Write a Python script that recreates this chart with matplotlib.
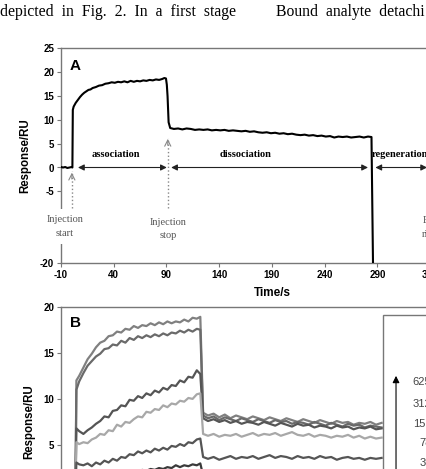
import matplotlib.pyplot as plt
from matplotlib.patches import Rectangle

plt.rcParams['axes.unicode_minus'] = False

# ---- panel A: single sensorgram ----
tA = [-10, -8, -6, -4, -2, 0, 0.8,
      1.2, 2, 4, 6, 8, 10, 12, 14, 16, 18, 20, 23, 26, 29, 32, 35, 38, 41, 44,
      47, 50, 53, 56, 59, 62, 65, 68, 71, 74, 77, 80, 83, 86, 88, 89.5,
      90.3, 91, 92, 93.5, 97, 101, 105, 109, 113, 117, 121, 125, 129, 133, 137,
      141, 145, 149, 153, 157, 161, 165, 169, 173, 177, 181, 185, 189, 193,
      197, 201, 205, 209, 213, 217, 221, 225, 229, 233, 237, 241, 245, 249,
      253, 257, 261, 265, 269, 273, 277, 281, 284.3, 286]
rA = [0.1, 0.0, 0.1, -0.1, 0.0, 0.1, 0.0,
      12.1, 12.8, 13.6, 14.2, 14.8, 15.3, 15.7, 16.0, 16.3, 16.4, 16.7, 16.9,
      17.2, 17.3, 17.6, 17.7, 17.9, 17.8, 18.0, 17.9, 18.1, 17.9, 18.2, 18.0,
      18.2, 18.1, 18.3, 18.2, 18.4, 18.3, 18.5, 18.4, 18.6, 18.8, 18.7,
      17.4, 15.0, 9.5, 8.3, 8.1, 8.2, 8.0, 8.2, 8.1, 7.9, 8.0, 7.9, 8.0, 7.8,
      7.9, 7.8, 7.9, 7.7, 7.8, 7.7, 7.6, 7.7, 7.5, 7.6, 7.4, 7.3, 7.4, 7.2,
      7.3, 7.1, 7.2, 7.0, 7.1, 6.9, 6.8, 6.9, 6.7, 6.8, 6.6, 6.7, 6.5, 6.6,
      6.3, 6.5, 6.4, 6.5, 6.3, 6.4, 6.5, 6.3, 6.5, 6.4, -25]

# ---- panel B: concentration series ----
tB_pre = [-10, 0.3]
tB_ass = [1, 3, 6, 9, 12, 15, 18, 21, 24, 27, 30, 33, 36, 39, 42, 45, 48, 51,
          54, 57, 60, 63, 66, 69, 72, 75, 78, 81, 84, 87, 89.5]
tB_dis = [91.5, 95, 99, 103, 107, 111, 115, 119, 123, 127, 131, 135, 139, 143,
          147, 151, 155, 159, 163, 167, 171, 175, 179, 183, 187, 191, 195, 199,
          203, 207, 211, 215, 219]

ass_625 = [12.0, 12.5, 13.4, 14.3, 14.9, 15.6, 16.1, 16.3, 16.8, 16.9, 17.3, 17.2,
           17.6, 17.5, 17.9, 17.7, 18.0, 17.9, 18.2, 18.0, 18.3, 18.1, 18.4, 18.2,
           18.4, 18.3, 18.6, 18.4, 18.8, 18.7, 18.9]
ass_312 = [11.0, 11.9, 12.8, 13.6, 14.1, 14.6, 14.9, 15.4, 15.5, 15.9, 15.8, 16.3,
           16.1, 16.6, 16.4, 16.8, 16.6, 16.9, 16.7, 17.0, 16.8, 17.1, 16.9, 17.2,
           17.1, 17.4, 17.2, 17.5, 17.3, 17.6, 17.5]
ass_156 = [6.8, 6.5, 6.2, 6.6, 6.9, 7.3, 7.6, 8.1, 8.0, 8.7, 8.8, 9.3, 9.2, 9.9,
           9.8, 10.3, 10.1, 10.6, 10.4, 10.9, 10.7, 11.2, 11.0, 11.5, 11.4, 12.0,
           11.8, 12.4, 12.3, 13.1, 12.7]
ass_78 = [5.3, 5.1, 5.3, 5.2, 5.6, 5.8, 6.2, 6.1, 6.6, 6.5, 7.2, 7.0, 7.5, 7.4,
          7.8, 8.1, 8.0, 8.6, 8.5, 8.9, 8.8, 9.3, 9.1, 9.5, 9.4, 9.8, 9.7, 10.1,
          10.0, 10.5, 10.6]
ass_39 = [3.1, 2.9, 2.8, 3.0, 2.7, 3.1, 2.9, 3.3, 3.1, 3.5, 3.3, 3.7, 3.6, 4.0,
          3.9, 4.3, 4.1, 4.4, 4.2, 4.6, 4.4, 4.7, 4.5, 4.9, 4.8, 5.1, 4.9, 5.3,
          5.2, 5.6, 5.7]
ass_20 = [1.3, 1.2, 1.4, 1.2, 1.5, 1.4, 1.6, 1.5, 1.8, 1.7, 1.9, 1.8, 2.0, 1.9,
          2.2, 2.0, 2.3, 2.2, 2.4, 2.3, 2.5, 2.4, 2.6, 2.5, 2.8, 2.6, 2.8, 2.7,
          2.9, 2.8, 3.0]

dis_625 = [8.5, 8.2, 8.4, 8.0, 8.3, 7.9, 8.2, 8.0, 7.8, 8.1, 7.9, 7.7, 8.0, 7.8,
           7.6, 7.9, 7.7, 7.5, 7.8, 7.6, 7.4, 7.7, 7.5, 7.3, 7.6, 7.4, 7.5, 7.2,
           7.4, 7.3, 7.5, 7.2, 7.4]
dis_312 = [8.2, 7.9, 8.1, 7.7, 8.0, 7.8, 7.6, 7.9, 7.7, 7.5, 7.8, 7.6, 7.4, 7.7,
           7.5, 7.6, 7.3, 7.5, 7.4, 7.2, 7.5, 7.3, 7.1, 7.4, 7.2, 7.0, 7.3, 7.1,
           7.2, 6.9, 7.1, 7.0, 6.9]
dis_156 = [7.9, 7.6, 7.8, 7.5, 7.7, 7.4, 7.6, 7.3, 7.5, 7.4, 7.2, 7.5, 7.3, 7.1,
           7.4, 7.2, 7.0, 7.3, 7.1, 7.2, 6.9, 7.1, 7.0, 6.8, 7.1, 6.9, 7.0, 6.7,
           6.9, 6.8, 7.0, 6.7, 6.8]
dis_78 = [6.2, 6.0, 6.2, 5.9, 6.1, 6.0, 6.2, 5.9, 6.1, 6.3, 6.0, 6.2, 6.1, 6.3,
          6.0, 6.2, 6.4, 6.1, 6.0, 6.2, 5.9, 6.1, 6.0, 5.8, 6.0, 5.9, 6.1, 5.8,
          6.0, 5.7, 5.9, 5.7, 5.8]
dis_39 = [3.7, 3.5, 3.7, 3.4, 3.6, 3.8, 3.5, 3.7, 3.6, 3.8, 3.5, 3.7, 3.9, 3.6,
          3.8, 3.7, 3.5, 3.8, 3.6, 3.7, 3.5, 3.8, 3.6, 3.7, 3.4, 3.6, 3.7, 3.5,
          3.6, 3.4, 3.6, 3.5, 3.6]
dis_20 = [1.7, 1.5, 1.7, 1.6, 1.8, 1.5, 1.7, 1.6, 1.5, 1.7, 1.6, 1.8, 1.5, 1.7,
          1.6, 1.5, 1.7, 1.6, 1.5, 1.7, 1.6, 1.4, 1.6, 1.5, 1.7, 1.5, 1.6, 1.4,
          1.6, 1.5, 1.6, 1.4, 1.5]

conc_labels = ['625', '312', '156', '78', '39', '20']
conc_y = [11.85, 9.5, 7.3, 5.2, 3.1, 1.0]
B_series = [(ass_625, dis_625, '#808080'), (ass_312, dis_312, '#6a6a6a'),
            (ass_156, dis_156, '#555555'), (ass_78, dis_78, '#a8a8a8'),
            (ass_39, dis_39, '#555555'), (ass_20, dis_20, '#3a3a3a')]

sans = 'Liberation Sans'
serif = 'Liberation Serif'
spine_col = '#777777'

fig = plt.figure(figsize=(4.27, 4.69), dpi=100)

# running text of the page above the figure
fig.text(0.0, 1 - 15.5 / 469, 'depicted  in  Fig.  2.  In  a  first  stage',
         family=serif, fontsize=11.3, ha='left', va='baseline')
fig.text(276 / 427, 1 - 15.5 / 469, 'Bound  analyte  detachi',
         family=serif, fontsize=11.3, ha='left', va='baseline')


def style_axes(ax):
    for s in ax.spines.values():
        s.set_color(spine_col)
        s.set_linewidth(1)
    ax.tick_params(direction='out', length=3, width=0.8, color=spine_col,
                   labelsize=7, pad=2)
    for lab in ax.get_xticklabels() + ax.get_yticklabels():
        lab.set_fontweight('bold')
        lab.set_family(sans)


# ---- A ----
axA = fig.add_axes([61 / 427, 1 - 262.7 / 469, 422 / 427, 214.2 / 469])
axA.plot(tA, rA, color='black', lw=1.5, zorder=3)
axA.set_xlim(-10, 390)
axA.set_ylim(-20, 25)
axA.set_xticks([-10, 40, 90, 140, 190, 240, 290, 340])
axA.set_yticks([-20, -5, 0, 5, 10, 15, 20, 25])
style_axes(axA)
axA.set_xlabel('Time/s', family=sans, fontweight='bold', fontsize=8.5, labelpad=5)
axA.set_ylabel('Response/RU', family=sans, fontweight='bold', fontsize=8.3, labelpad=6)
axA.text(-1.5, 21.3, 'A', family=sans, fontweight='bold', fontsize=11,
         ha='left', va='center')

# injection markers
for t, tip in [(0.3, -0.5), (91.2, 6.6)]:
    axA.plot([t, t], [-8.6, tip - 0.3], color='#888888', lw=1, ls=':', zorder=2)
    axA.annotate('', xy=(t, tip), xytext=(t, tip - 2.5),
                 arrowprops=dict(arrowstyle='->', color='#888888', lw=0.8,
                                 mutation_scale=11))
axA.text(-6.2, -12.4, 'Injection\nstart', family=serif, fontsize=7.5,
         color='#555555', ha='center', va='center', linespacing=1.6,
         clip_on=False, zorder=6,
         bbox=dict(boxstyle='square,pad=0.6', fc='white', ec='none'))
axA.text(91.5, -12.9, 'Injection\nstop', family=serif, fontsize=7.5,
         color='#555555', ha='center', va='center', linespacing=1.6)
axA.text(332.5, -12.6, 'Buffer\nrinse', family=serif, fontsize=7.5,
         color='#555555', ha='left', va='center', linespacing=1.6)

# phase arrows
for x0, x1 in [(6.1, 90.3), (94.4, 281), (288, 337)]:
    axA.annotate('', xy=(x1, 0), xytext=(x0, 0),
                 arrowprops=dict(arrowstyle='<|-|>', color='#222222', lw=0.8,
                                 mutation_scale=9, shrinkA=0, shrinkB=0))
axA.text(42, 2.8, 'association', family=serif, fontweight='bold', fontsize=7.5,
         ha='center', va='center')
axA.text(164.6, 2.8, 'dissociation', family=serif, fontweight='bold',
         fontsize=7.5, ha='center', va='center')
axA.text(285, 2.8, 'regeneration', family=serif, fontweight='bold',
         fontsize=7.5, ha='left', va='center')

# ---- B ----
axB = fig.add_axes([61 / 427, 1 - 537.2 / 469, 392 / 427, 230.5 / 469])
for ass, dis, col in B_series:
    axB.plot(tB_pre + tB_ass + tB_dis, [0, 0] + ass + dis, color=col, lw=1.6)
axB.set_xlim(-10, 270)
axB.set_ylim(-5, 20)
axB.set_yticks([-5, 0, 5, 10, 15, 20])
style_axes(axB)
axB.set_ylabel('Response/RU', family=sans, fontweight='bold', fontsize=8.3, labelpad=6)
axB.text(-3.6, 18.2, 'B', family=sans, fontweight='bold', fontsize=11,
         ha='left', va='center')

# concentration key
axB.add_patch(Rectangle((220.2, -5), 100, 24.1, fc='white', ec=spine_col,
                        lw=1, zorder=5))
axB.annotate('', xy=(229.3, 12.5), xytext=(229.3, -4),
             arrowprops=dict(arrowstyle='-|>', color='black', lw=0.8,
                             mutation_scale=10, shrinkA=0, shrinkB=0), zorder=6)
for lab, y in zip(conc_labels, conc_y):
    axB.text(254.6, y, lab, family=sans, fontsize=8, color='#444444',
             ha='right', va='center', zorder=6)

fig.savefig('out.png', dpi=100)
